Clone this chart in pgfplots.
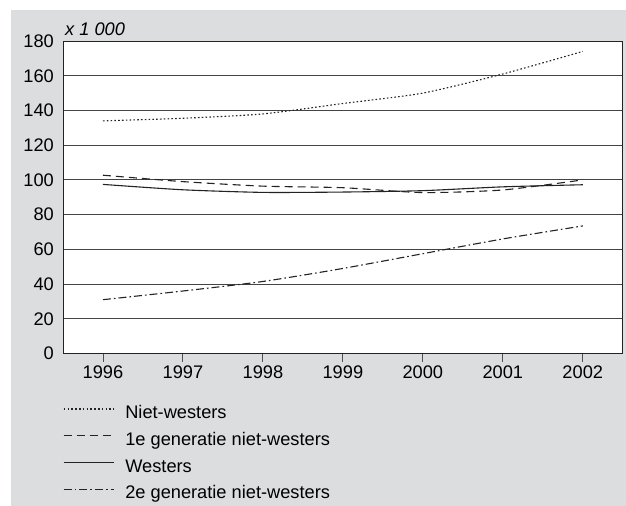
\documentclass[border=0pt]{standalone}
\usepackage{fontspec}
\setmainfont{Liberation Sans}
\usepackage{pgfplots}
\pgfplotsset{compat=1.18}
\definecolor{panel}{RGB}{220,221,223}
\definecolor{ink}{RGB}{35,35,35}

\begin{document}
\begin{tikzpicture}
\path[use as bounding box] (0,0) rectangle (626bp,-506bp);
\fill[panel] (10.5bp,-10bp) rectangle (626bp,-506bp);
\begin{axis}[
  at={(63bp,-353.5bp)}, anchor=south west,
  scale only axis, width=559bp, height=312.5bp,
  xmin=1995.5, xmax=2002.49, ymin=0, ymax=180,
  xtick={1996,1997,...,2002}, ytick={0,20,...,180},
  xtick pos=lower, ytick pos=left,
  tick align=outside, major tick length=8bp,
  ytick style={draw=none}, xtick style={ink!80, line width=0.9bp},
  axis background/.style={fill=white},
  axis line style={ink, line width=1bp},
  ymajorgrids, major grid style={ink!85, line width=0.8bp},
  font=\fontsize{18.3}{21}\selectfont,
  /pgf/number format/assume math mode=true,
  /pgf/number format/1000 sep={},
  xticklabel style={yshift=-1bp},
  yticklabel style={inner sep=0pt, xshift=-1bp},
  legend cell align=left,
  legend style={at={(0,0)}, anchor=north west, yshift=-52bp,
    draw=none, fill=none, inner sep=0pt, row sep=10.2bp,
    font=\fontsize{18.3}{21}\selectfont,
    nodes={inner sep=0pt, text height=13bp, text depth=3.5bp}},
  legend image code/.code={%
    \draw[#1] (0bp,5bp) -- (50bp,5bp);
    \path (61bp,5bp);},
  every axis plot/.append style={ink, line width=1.1bp, smooth, tension=0.4},
]
\addplot[dash pattern=on 1.6bp off 2.2bp] coordinates {
  (1996,134) (1997,135.5) (1998,138) (1999,144) (2000,150) (2001,161) (2002,174)};
\addlegendentry{Niet-westers}
\addplot[dash pattern=on 8bp off 5bp] coordinates {
  (1996,102.7) (1997,99) (1998,96.4) (1999,95.5) (2000,92.7) (2001,94.2) (2002,100)};
\addlegendentry{1e generatie niet-westers}
\addplot[solid] coordinates {
  (1996,97.4) (1997,94.3) (1998,92.8) (1999,93) (2000,93.8) (2001,96) (2002,97.2)};
\addlegendentry{Westers}
\addplot[dash pattern=on 8bp off 3bp on 1.6bp off 3bp] coordinates {
  (1996,31) (1997,36) (1998,41.5) (1999,49) (2000,57.5) (2001,66) (2002,73.5)};
\addlegendentry{2e generatie niet-westers}
\end{axis}
\node[anchor=base west, inner sep=0pt, font=\fontsize{18.3}{21}\selectfont\itshape] at (65bp,-35bp) {x 1 000};
\end{tikzpicture}
\end{document}
